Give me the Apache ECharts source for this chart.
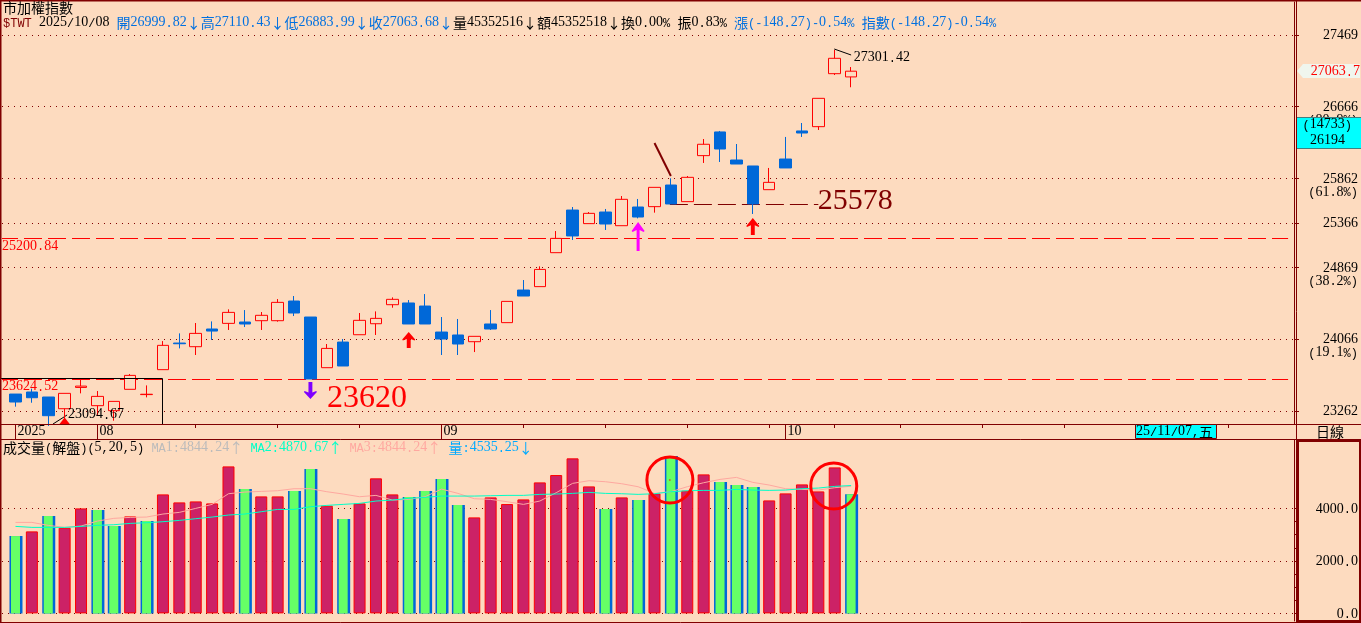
<!DOCTYPE html>
<html><head><meta charset="utf-8">
<style>html,body{margin:0;padding:0;background:#FDDBBF}#c{width:1361px;height:623px}</style>
<script src="https://cdn.jsdelivr.net/npm/echarts@6/dist/echarts.min.js"></script>
</head><body><div id="c"></div>
<script>
// [open, close, low, high]
const candles = [
[23451,23362,23310,23451],[23474,23410,23354,23511],[23418,23209,23094.67,23418],[23287,23459,23179,23459],
[23525,23540,23459,23615],[23321,23425,23216,23485],[23265,23369,23153,23369],[23504,23660,23504,23675],
[23445,23449,23414,23548],[23724,23996,23724,24044],[24022,24014,23962,24130],[23981,24130,23888,24246],
[24179,24156,24056,24264],[24242,24365,24168,24399],[24257,24235,24201,24391],[24272,24332,24168,24369],
[24272,24477,24261,24514],[24492,24358,24324,24548],[24313,23620,23620,24313],[23746,23962,23746,24011],
[24033,23765,23765,24067],[24115,24276,24115,24358],[24238,24298,24112,24376],[24451,24511,24417,24533],
[24470,24235,24235,24503],[24436,24235,24235,24570],[24145,24067,23888,24313],[24112,24011,23888,24291],
[24037,24097,23921,24097],[24235,24179,24168,24391],[24250,24488,24250,24488],[24615,24548,24548,24727],
[24653,24846,24653,24880],[25033,25193,25033,25275],[25510,25220,25175,25544],[25358,25473,25358,25488],
[25488,25354,25287,25522],[25335,25630,25335,25667],[25544,25432,25417,25634],[25548,25764,25481,25764],
[25790,25578,25578,25865],[25604,25876,25604,25891],[26119,26246,26037,26305],[26384,26193,26048,26395],
[26070,26025,26025,26249],[26003,25578,25466,26003],[25738,25820,25738,25981],[26081,25981,25981,26328],
[26395,26372,26328,26484],[26443,26760,26406,26760],[27036,27208,27021,27301.42],[26999.82,27063.68,26883.99,27110.43]];
const volumes = [2946,3124,3708,3264,4000,3937,3327,3696,3518,4534,4229,4267,4191,5601,4737,4458,4458,4661,5499,4102,3594,4191,5144,4534,4432,4661,5118,4128,3658,4420,4166,4343,4991,5271,5906,4839,3975,4420,4318,4572,5994,4674,5296,5004,4890,4813,4305,4572,4915,4648,5563,4535];
const volumeKinds = "grgrrggrgrrrrrgrrggrgrrrgggg"+"rrrrrrrrgrgrgrrggg"+"rrrrrg";
const maPink = [3467,3467,3353,3277,3327,3518,3620,3658,3670,3785,3848,4000,4153,4559,4623,4648,4674,4750,4750,4636,4547,4445,4496,4318,4343,4445,4737,4572,4369,4343,4255,4153,4280,4597,4953,5055,5017,4940,4826,4572,4636,4826,4978,5105,5182,4991,4890,4750,4724,4699,4788,4844];
const maCyan = [3315,3277,3277,3277,3315,3353,3378,3429,3454,3493,3543,3607,3670,3747,3785,3874,3962,3962,4064,4115,4153,4191,4280,4318,4382,4420,4470,4470,4470,4483,4496,4496,4534,4547,4572,4610,4572,4559,4534,4559,4636,4674,4686,4686,4724,4699,4686,4699,4750,4775,4839,4871];
const priceTicks = [27469,26666,25862,25366,24869,24066,23262];
const priceNotes = {26666:'(80.9%)',25862:'(61.8%)',24869:'(38.2%)',24066:'(19.1%)'};
const volTicks = [0,2000,4000];
const volMinorTicks = [500,1000,1500,2500,3000,3500];
const weekTicks = [11,16,21,31,36,41,46,50,54,59,64,69,74];
const monthTicks = [0,5,26,47];
const monthLabels = ['2025','08','09','10'];
const headerTitle = '市加權指數';
const headerLine = [['$TWT ','dred'],['2025/10/08 ','black'],['開26999.82↓高27110.43↓低26883.99↓收27063.68↓','blue'],['量45352516↓額45352518↓換0.00% 振0.83% ','black'],['漲(-148.27)-0.54% 指數(-148.27)-0.54%','blue']];
const volHeader = [['成交量(解盤)(5,20,5) ','black'],['MA1:4844.24↑ ','gray'],['MA2:4870.67↑ ','aqua'],['MA3:4844.24↑ ','pink'],['量:4535.25↓','sky']];

const BG='#FDDBBF', DRED='#800000', RED='#FF0000', BLUE='#0068D8', MONO='"Liberation Mono","DejaVu Sans Mono",monospace', CJK='"Noto Sans CJK TC",sans-serif', SERIF='"Liberation Serif",serif';
const XMIN=-0.823, XMAX=78.03, PMIN=23116, PMAX=27838, VMIN=-290, VMAX=6606;
const tones={black:'#000',dred:DRED,blue:'#0070E0',gray:'#BBBBBB',aqua:'#00FFC8',pink:'#FFA8A0',sky:'#00AAFF',red:RED};
const ARROW_UP='path://M5,0 L10,7 L9.5,8 L6.5,6.5 L6.5,15 L3.5,15 L3.5,6.5 L0.5,8 L0,7 Z';
const ARROW_THIN='path://M6.5,0 L13,9 L12,10 L8,8 L8,29 L5,29 L5,8 L1,10 L0,9 Z';
const ARROW_DN='path://M3.5,0 L6.5,0 L6.5,10 L9.5,8.5 L10,9.5 L5,16 L0,9.5 L0.5,8.5 L3.5,10 Z';

function richText(segs){
  const rich={};let text='';
  segs.forEach(([s,c])=>{
    (s.match(/[\u2190-\u2193\u3000-\u9fff]+|[0-9]+|[^\u2190-\u2193\u3000-\u9fff0-9]+/g)||[]).forEach(run=>{
      const kind=/[\u2190-\u2193\u3000-\u9fff]/.test(run)?'Z':/[0-9]/.test(run)?'D':'N', k=c+kind;
      rich[k]={fill:tones[c],color:tones[c],fontWeight:400,lineHeight:13,verticalAlign:'bottom',
        fontFamily:kind==='Z'?CJK:kind==='D'?SERIF:MONO,fontSize:kind==='Z'?14:kind==='D'?14:12};
      text+='{'+k+'|'+run+'}';
    });
  });
  return {text,rich};
}
const T=(x,y,segs,o={})=>({type:'text',x,y,z:120,silent:true,style:Object.assign({verticalAlign:'middle',align:'left'},richText(segs),o)});
const L=(x1,y1,x2,y2,w=1,c=DRED)=>({type:'line',z:110,silent:true,shape:{x1,y1,x2,y2},style:{stroke:c,lineWidth:w}});
const blackRich=richText([['0a(','black'],['五','black']]).rich;
const blackText=s=>richText([[s,'black']]).text;

const markLabel=(name,coord,tone)=>{const r=richText([[name,tone]]);return {name,coord,symbol:'circle',symbolSize:0,label:{show:true,formatter:r.text,rich:r.rich,position:'right',distance:0}};};
const bigLabel=(name,coord,color,size)=>({name,coord,symbol:'circle',symbolSize:0,label:{show:true,formatter:name,color,fontFamily:SERIF,fontSize:size,position:'inside'}});
const mkSym=(coord,symbol,size,color)=>({coord,symbol,symbolSize:size,itemStyle:{color},label:{show:false}});
const seg=(a,b,style)=>[{coord:a,lineStyle:style},{coord:b}];
const dash=(c)=>({color:c,width:1,type:[18,6],dashOffset:2});

const dotted={show:true,lineStyle:{color:DRED,width:1,type:[1,5]}};
const option={
  animation:false,backgroundColor:BG,
  grid:[{left:2,top:2,width:1294,height:422},{left:2,top:440,width:1294,height:181}],
  xAxis:[
    {type:'value',gridIndex:0,min:XMIN,max:XMAX,position:'bottom',splitLine:{show:false},axisLine:{show:true,onZero:false,lineStyle:{color:DRED}},axisTick:{show:true,length:4,inside:false,lineStyle:{color:DRED},customValues:weekTicks},axisLabel:{show:false}},
    {type:'value',gridIndex:0,min:XMIN,max:XMAX,position:'bottom',splitLine:{show:false},axisLine:{show:false,onZero:false},axisTick:{show:true,length:15,lineStyle:{color:DRED},customValues:monthTicks},
      axisLabel:{show:true,customValues:monthTicks,formatter:v=>blackText(monthLabels[monthTicks.indexOf(v)]),rich:blackRich,align:'left',verticalAlign:'top',margin:1,padding:[0,0,0,2]}},
    {type:'value',gridIndex:1,min:XMIN,max:XMAX,show:false,splitLine:{show:false}},
    {type:'value',gridIndex:1,min:XMIN,max:XMAX,show:false,splitLine:{show:false}}
  ],
  yAxis:[
    {type:'value',gridIndex:0,min:PMIN,max:PMAX,position:'right',splitLine:dotted,
      axisLine:{show:true,onZero:false,lineStyle:{color:DRED}},axisTick:{show:true,length:5,lineStyle:{color:DRED},customValues:priceTicks},
      axisLabel:{show:true,customValues:priceTicks,formatter:v=>blackText(' ')+'\n'+blackText(''+v)+'\n'+blackText(priceNotes[v]||' '),rich:blackRich,align:'right',margin:64,padding:[2,0,0,0]}},
    {type:'value',gridIndex:1,min:VMIN,max:VMAX,position:'right',splitLine:dotted,
      axisLine:{show:true,onZero:false,lineStyle:{color:DRED}},axisTick:{show:true,length:5,lineStyle:{color:DRED},customValues:volTicks},
      axisLabel:{show:true,customValues:volTicks,formatter:v=>blackText(v.toFixed(1)),rich:blackRich,align:'right',margin:64,padding:[2,0,0,0]}},
    {type:'value',gridIndex:1,min:VMIN,max:VMAX,position:'right',splitLine:{show:false},axisLine:{show:false,onZero:false},
      axisTick:{show:true,length:2,lineStyle:{color:DRED},customValues:volMinorTicks},axisLabel:{show:false}}
  ],
  series:[
    {type:'candlestick',name:'K',xAxisIndex:0,yAxisIndex:0,barWidth:12,z:3,
      data:candles.map((c,i)=>[i,c[0],c[1],c[2],c[3]]),
      itemStyle:{color:BG,color0:BLUE,borderColor:RED,borderColor0:BLUE,borderWidth:1},
      markLine:{silent:true,symbol:['none','none'],label:{show:false},z:2,animation:false,data:[
        seg([XMIN,25192],[77.67,25192],dash(RED)),
        seg([XMIN,23614],[77.67,23614],dash(RED)),
        [{coord:[39.94,25572],lineStyle:{color:DRED,width:1,type:[18,6]}},{coord:[49,25572]}],
        seg([39,26260],[40,25891],{color:DRED,width:2,type:'solid'}),
        seg([49.97,27312],[51,27245],{color:'#000',width:1,type:'solid'}),
        seg([2.29,23116],[3.15,23217],{color:'#000',width:1,type:'solid'})
      ]},
      markPoint:{silent:true,animation:false,z:6,data:[
        bigLabel('23620',[21.45,23396],RED,32),
        bigLabel('25578',[51.25,25612],DRED,30),
        markLabel('27301.42',[51.16,27212],'black'),
        markLabel('23094.67',[3.2,23217],'black'),
        markLabel('25200.84',[XMIN,25100],'red'),
        markLabel('23624.52',[XMIN,23530],'red'),
        mkSym([24,24056],ARROW_UP,[13,16],RED),
        mkSym([45,25326],ARROW_UP,[13,17],RED),
        mkSym([18,23491],ARROW_DN,[13,17],'#7F00FF'),
        mkSym([38,25214],ARROW_THIN,[13,29],'#FF00FF'),
        mkSym([3,23150],'triangle',[11,7],RED)
      ]}
    },
    {type:'bar',name:'blue',xAxisIndex:2,yAxisIndex:1,barWidth:13,barGap:'-100%',z:2,itemStyle:{color:BLUE},
      data:volumes.map((v,i)=>[i,v]).filter(d=>volumeKinds[d[0]]==='g')},
    {type:'bar',name:'red',xAxisIndex:2,yAxisIndex:1,barWidth:12,barGap:'-100%',z:2,itemStyle:{color:'#CC2266',borderColor:RED,borderWidth:1},
      data:volumes.map((v,i)=>[i,v]).filter(d=>volumeKinds[d[0]]==='r'),
      markPoint:{silent:true,animation:false,z:8,data:[
        {coord:[39.94,5082],symbol:'circle',symbolSize:46,itemStyle:{color:'transparent',borderColor:RED,borderWidth:3},label:{show:false}},
        {coord:[49.94,4853],symbol:'circle',symbolSize:46,itemStyle:{color:'transparent',borderColor:RED,borderWidth:3},label:{show:false}},
        {coord:[39.94,5082],symbol:'circle',symbolSize:1.5,itemStyle:{color:RED},label:{show:false}}
      ]}},
    {type:'bar',name:'green',xAxisIndex:3,yAxisIndex:1,barWidth:9,z:3,itemStyle:{color:'#66FF66'},
      data:volumes.map((v,i)=>[i,v]).filter(d=>volumeKinds[d[0]]==='g')},
    {type:'line',name:'MA3',xAxisIndex:2,yAxisIndex:1,z:5,symbol:'none',lineStyle:{color:'#FFA8A0',width:1},data:maPink.map((v,i)=>[i,v])},
    {type:'line',name:'MA2',xAxisIndex:2,yAxisIndex:1,z:5,symbol:'none',lineStyle:{color:'#00FFC8',width:1},data:maCyan.map((v,i)=>[i,v])}
  ],
  graphic:{elements:[
    L(0,0.5,1361,0.5,2), L(0.5,0,0.5,623,2), L(0,622.5,1361,622.5,1),
    L(0,424.5,1297,424.5), L(0,439.5,1361,439.5), L(1296.5,0,1296.5,623), L(1296.5,424.5,1361,424.5),
    {type:'rect',z:109,silent:true,shape:{x:0.5,y:378.5,width:162,height:46},style:{fill:'transparent',stroke:'#000',lineWidth:1}},
    {type:'rect',z:111,silent:true,shape:{x:1298,y:441,width:62,height:180},style:{fill:'transparent',stroke:DRED,lineWidth:2}},
    {type:'rect',z:111,silent:true,shape:{x:1297,y:117.5,width:64,height:31},style:{fill:'#00FFFF',stroke:DRED,lineWidth:0}},
    L(1297,117.5,1361,117.5), L(1297,148.5,1361,148.5),
    {type:'polygon',z:111,silent:true,shape:{points:[[1297,71],[1303,64],[1360,64],[1360,78],[1303,78]]},style:{fill:'#F0F6EE'}},
    T(1360,72,[['27063.7','red']],{align:'right'}),
    T(1352,125,[['(14733)','black']],{align:'right'}),
    T(1345,141,[['26194','black']],{align:'right'}),
    {type:'rect',z:111,silent:true,shape:{x:1135.5,y:424.5,width:81,height:14},style:{fill:'#00FFFF',stroke:DRED,lineWidth:1}},
    T(1136,432,[['25/11/07,五','black']]),
    T(1316,432,[['日線','black']]),
    T(3,8,[[headerTitle,'black']]),
    T(3,23,headerLine),
    T(3,448,volHeader)
  ]}
};
const chart=echarts.init(document.getElementById('c'),null,{renderer:'canvas'});
chart.setOption(option);
</script></body></html>
